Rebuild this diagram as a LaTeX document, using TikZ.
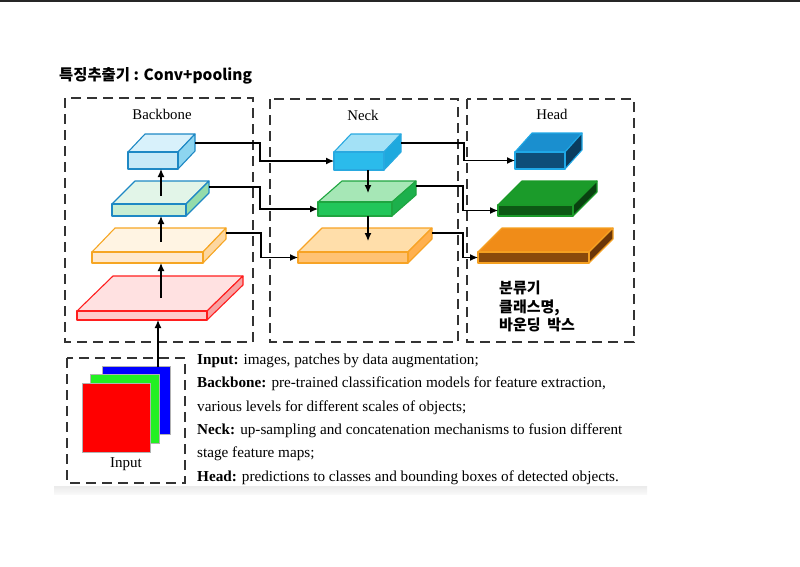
\documentclass[tikz,border=0pt]{standalone}
\usepackage{fontspec}
\setmainfont{Liberation Serif}
\newfontfamily\kr{Noto Sans CJK KR}
\usetikzlibrary{arrows.meta,calc}
% slab colours: s stroke, t top, f front, d side
\definecolor{b1s}{HTML}{1E88C4}\definecolor{b1t}{HTML}{D8F1FB}\definecolor{b1f}{HTML}{C6E9F7}\definecolor{b1d}{HTML}{8DD5F0}
\definecolor{b2s}{HTML}{1E88C4}\definecolor{b2t}{HTML}{E2F5E8}\definecolor{b2f}{HTML}{C8EDD3}\definecolor{b2d}{HTML}{94DCAB}
\definecolor{b3s}{HTML}{F6A623}\definecolor{b3t}{HTML}{FFF4E3}\definecolor{b3f}{HTML}{FFE9CE}\definecolor{b3d}{HTML}{FDD7A0}
\definecolor{b4s}{HTML}{FF1E1E}\definecolor{b4t}{HTML}{FFE1E1}\definecolor{b4f}{HTML}{FFCACA}\definecolor{b4d}{HTML}{F7A3A3}
\definecolor{n1s}{HTML}{29A9E0}\definecolor{n1t}{HTML}{A3E1F6}\definecolor{n1f}{HTML}{2BBBEB}\definecolor{n1d}{HTML}{1EA9DE}
\definecolor{n2s}{HTML}{1FA540}\definecolor{n2t}{HTML}{A6E7B6}\definecolor{n2f}{HTML}{22C65A}\definecolor{n2d}{HTML}{1DB04C}
\definecolor{n3s}{HTML}{F7A325}\definecolor{n3t}{HTML}{FFDEAA}\definecolor{n3f}{HTML}{FFC274}\definecolor{n3d}{HTML}{FFB04F}
\definecolor{h1s}{HTML}{1FA8E6}\definecolor{h1t}{HTML}{1A8FCF}\definecolor{h1f}{HTML}{0E4E78}\definecolor{h1d}{HTML}{0A3C5E}
\definecolor{h2s}{HTML}{1A9A28}\definecolor{h2t}{HTML}{1B9B2A}\definecolor{h2f}{HTML}{0D5814}\definecolor{h2d}{HTML}{094110}
\definecolor{h3s}{HTML}{F5A021}\definecolor{h3t}{HTML}{F08C18}\definecolor{h3f}{HTML}{8A4A0B}\definecolor{h3d}{HTML}{6B3608}
\definecolor{dashc}{HTML}{333333}
\tikzset{
  slabfront/.style={inner sep=0pt, outer sep=0pt, line width=1.1pt, line join=round},
  slabedge/.style={line width=1.1pt, line join=round},
  region/.style={draw=dashc, line width=1.2pt, dash pattern=on 10pt off 6pt},
  arr/.style={-{Latex[length=8pt,width=7pt]}, line width=1.2pt},
  lbl/.style={font=\fontsize{14.8}{17}\selectfont, inner sep=0pt},
  desc/.style={font=\fontsize{15.2}{17}\selectfont, inner sep=0pt, anchor=base west},
  hlbl/.style={font=\kr\bfseries\fontsize{15}{17}\selectfont, inner sep=0pt, anchor=base west}
}
% #1 name, #2 x, #3 y (front top-left), #4 w, #5 h, #6 dx, #7 dy (depth), #8 colour prefix
\newcommand\slab[8]{%
  \filldraw[slabedge, draw=#8s, fill=#8t] (#2,#3) -- ++(#6,-#7) -- ++(#4,0) -- ++(-#6,#7) -- cycle;
  \filldraw[slabedge, draw=#8s, fill=#8d] (#2+#4,#3) -- ++(#6,-#7) -- ++(0,#5) -- ++(-#6,#7) -- cycle;
  \node[slabfront, draw=#8s, fill=#8f, minimum width=#4pt, minimum height=#5pt, anchor=north west] (#1) at (#2,#3) {};
}
\begin{document}
\begin{tikzpicture}[x=1pt,y=-1pt]
\path[use as bounding box] (0,0) rectangle (800,566);
\draw[line width=1.6pt, black!85] (0,0.8) -- (800,0.8);
\shade[top color=gray!16, bottom color=gray!5] (54,486) rectangle (647,494);

% title
\node[anchor=west, inner sep=0pt, font=\kr\bfseries\fontsize{15.4}{17}\selectfont] (title) at (59,76) {특징추출기 : Conv+pooling};

% regions
\draw[region] (65,98) rectangle (253,342);
\draw[region] (270,99) rectangle (458,342);
\draw[region] (467,99) rectangle (634,342);
\draw[region] (67,358) rectangle (185,483);

\node[lbl] (tb) at (162,114) {Backbone};
\node[lbl] (tn) at (363,115) {Neck};
\node[lbl] (th) at (552,114) {Head};

% backbone slabs
\slab{b1}{128}{152}{50}{17}{17}{18}{b1}
\slab{b2}{112}{204}{74}{12}{23}{23}{b2}
\slab{b3}{92}{252}{111}{11}{23}{24}{b3}
\slab{b4}{77}{311}{130}{9}{36}{35}{b4}

% neck slabs
\slab{n1}{334}{152}{50}{18}{17}{18}{n1}
\slab{n2}{318}{202}{74}{14}{24}{21}{n2}
\slab{n3}{298}{252}{110}{11}{24}{24}{n3}

% head slabs
\slab{h1}{515}{152}{50}{17}{17}{19}{h1}
\slab{h2}{498}{205}{75}{11}{24}{24}{h2}
\slab{h3}{478}{252}{111}{11}{24}{24}{h3}

% input stack
\filldraw[draw=gray!60, line width=0.5pt, fill={rgb,255:red,0;green,0;blue,255}] (102,366) rectangle (170,434);
\filldraw[draw=gray!60, line width=0.5pt, fill={rgb,255:red,34;green,240;blue,34}] (90,374) rectangle (159,443);
\filldraw[draw=gray!60, line width=0.5pt, fill={rgb,255:red,255;green,0;blue,0}] (82,383) rectangle (150,452);
\node[font=\fontsize{15}{17}\selectfont, inner sep=0pt] (tin) at (126,464) {Input};

% vertical arrows backbone
\coordinate (in0) at (158,367);
\draw[arr] (in0) -- (in0 |- b4.south);
\coordinate (u4) at (161,298);
\draw[arr] (u4) -- (u4 |- b3.south);
\coordinate (u3) at (161,242);
\draw[arr] (u3) -- (u3 |- b2.south);
\coordinate (u2) at (161,196);
\draw[arr] (u2) -- (u2 |- b1.south);

% vertical arrows neck
\coordinate (d1) at (368,193);
\draw[arr] (n1.south -| d1) -- (d1);
\coordinate (d2) at (368,241);
\draw[arr] (n2.south -| d2) -- (d2);

% backbone -> neck
\coordinate (o1) at (195,143);
\coordinate (o2) at (209,187);
\coordinate (o3) at (226,233);
\draw[arr] (o1) -- (260,143) |- (n1.west);
\draw[arr] (o2) -- (260,187) |- (n2.west);
\draw[arr] (o3) -- (261,233) |- (n3.west);

% neck -> head
\coordinate (p1) at (401,143);
\coordinate (p2) at (416,186);
\coordinate (p3) at (432,233);
\draw[arr] (p1) -- (464,143) |- (h1.west);
\draw[arr] (p2) -- (463,186) |- (h2.west);
\draw[arr] (p3) -- (463,233) |- (h3.west);

% head label
\node[hlbl] (k1) at (499,293.5) {분류기};
\node[hlbl] (k2) at (499,312) {클래스명,};
\node[hlbl] (k3) at (499,330.5) {바운딩\hspace{0.45em}박스};

% description
\node[desc] (l1) at (197,364.5) {\textbf{Input:} images, patches by data augmentation;};
\node[desc] (l2) at (197,387.8) {\textbf{Backbone:} pre-trained classification models for feature extraction,};
\node[desc] (l3) at (197,411.1) {various levels for different scales of objects;};
\node[desc] (l4) at (197,434.4) {\textbf{Neck:} up-sampling and concatenation mechanisms to fusion different};
\node[desc] (l5) at (197,457.7) {stage feature maps;};
\node[desc] (l6) at (197,481) {\textbf{Head:} predictions to classes and bounding boxes of detected objects.};
\end{tikzpicture}
\end{document}
